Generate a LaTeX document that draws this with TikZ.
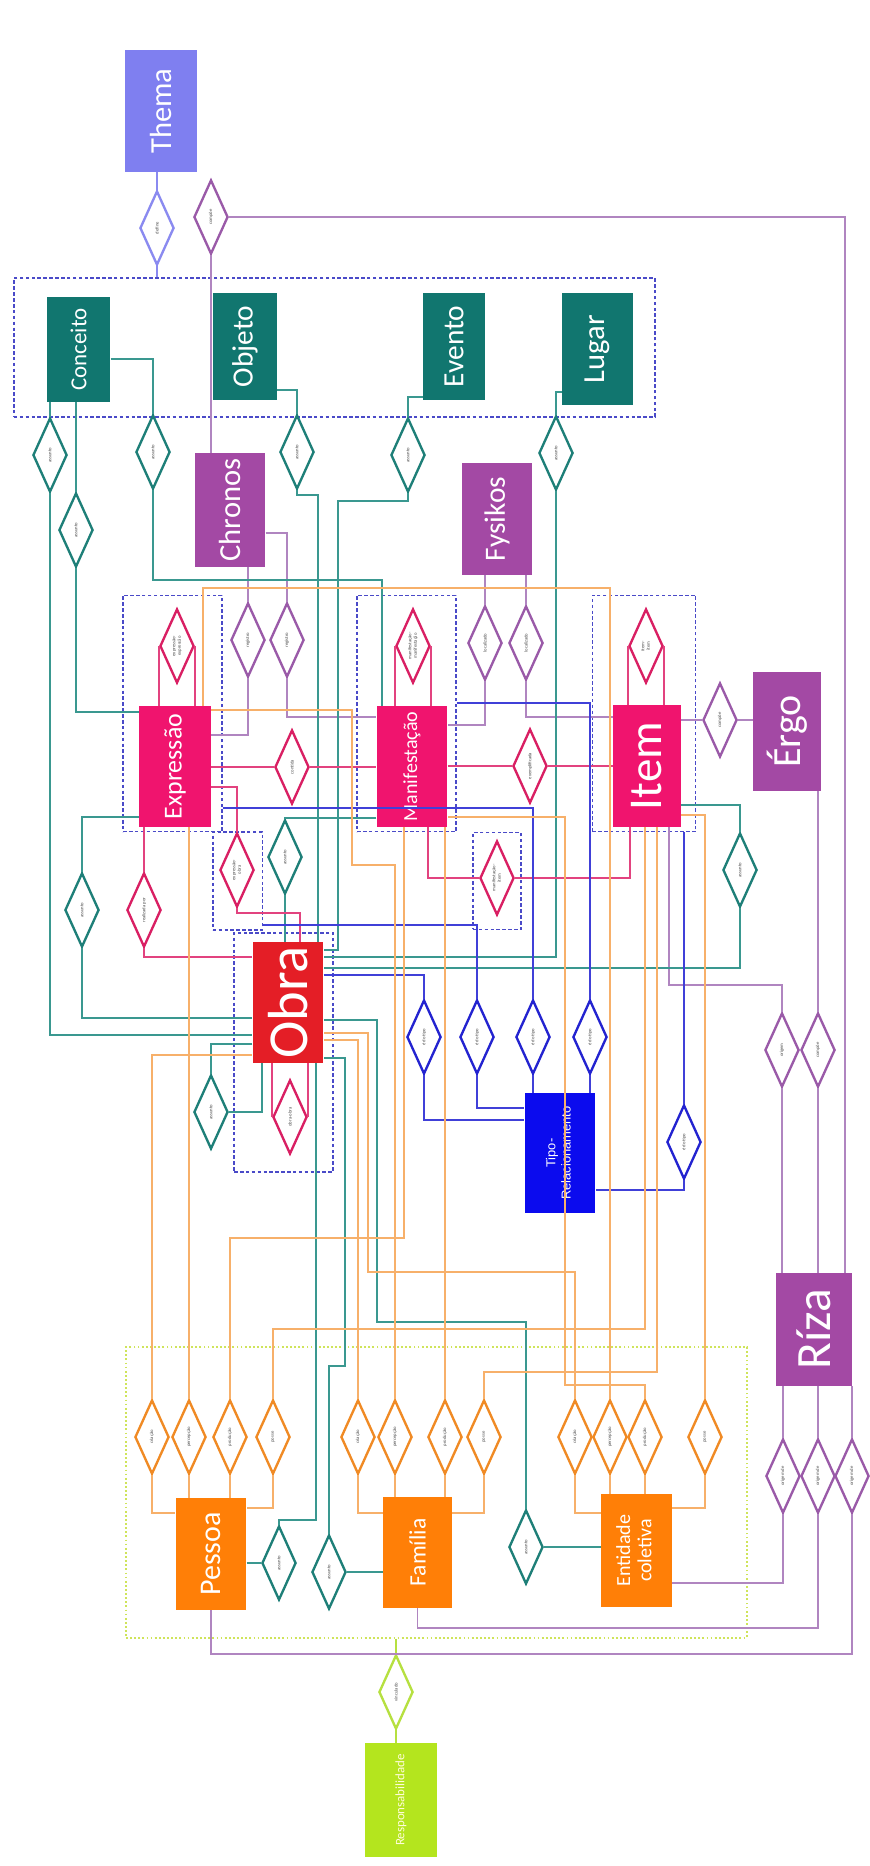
\documentclass[tikz,border=0pt]{standalone}
\usepackage{fontspec}
\setmainfont{Carlito}
\newfontfamily\arialfont{Liberation Sans}
\usepackage{graphicx}
\usetikzlibrary{shapes.geometric}

\definecolor{tealbox}{HTML}{11766F}
\definecolor{tealdia}{HTML}{1E7F78}
\definecolor{tealline}{HTML}{3A9890}
\definecolor{purpbox}{HTML}{A349A4}
\definecolor{purpdia}{HTML}{9A5AA8}
\definecolor{purpline}{HTML}{B085C0}
\definecolor{pinkbox}{HTML}{F0146E}
\definecolor{crimdia}{HTML}{D91F63}
\definecolor{pinkline}{HTML}{E2437F}
\definecolor{obrared}{HTML}{E41E26}
\definecolor{orangebox}{HTML}{FF7F07}
\definecolor{orangedia}{HTML}{F08A24}
\definecolor{orangeline}{HTML}{F7B06A}
\definecolor{bluebox}{HTML}{0B0BEE}
\definecolor{bluedia}{HTML}{2323D0}
\definecolor{blueline}{HTML}{4040D8}
\definecolor{themabox}{HTML}{7F7FF0}
\definecolor{lavdia}{HTML}{8A8AF0}
\definecolor{limebox}{HTML}{B4E51E}
\definecolor{limedia}{HTML}{B6E040}
\definecolor{groupblue}{HTML}{4A4AC8}
\definecolor{groupgreen}{HTML}{CFE45A}

\newcommand{\vtxt}[1]{\rotatebox{90}{#1}}
\newcommand{\vtwo}[2]{\rotatebox{90}{\begin{tabular}{@{}c@{}}#1\\#2\end{tabular}}}

\tikzset{
  ent/.style={rectangle, inner sep=0pt, minimum width=60pt, minimum height=100pt, text=white},
  rel/.style={diamond, aspect=0.4, inner sep=0pt, minimum width=29pt, minimum height=63pt,
    fill=white, line width=2pt, text=black!70, font=\fontsize{4}{4.6}\selectfont},
  lnk/.style={line width=1.35pt},
  tl/.style={lnk, draw=tealline},
  pl/.style={lnk, draw=purpline},
  kl/.style={lnk, draw=pinkline},
  ol/.style={lnk, draw=orangeline},
  bl/.style={lnk, draw=blueline},
  ll/.style={lnk, draw=lavdia},
  gl/.style={lnk, draw=limedia},
  grp/.style={draw=groupblue, line width=1.2pt, dash pattern=on 3pt off 2pt},
  grpgreen/.style={draw=groupgreen, line width=1.5pt, dash pattern=on 1.5pt off 2pt},
}

\begin{document}
\begin{tikzpicture}[x=0.85pt, y=-0.85pt]
  \fill[white] (0,0) rectangle (869,1866);
  \useasboundingbox (0,0) rectangle (869,1866);

  % groups
  \node[grp, minimum width=545pt, minimum height=118pt] (gtop) at (334.5,347.5) {};
  \node[grpgreen, minimum width=528pt, minimum height=247pt] (ggreen) at (436.5,1492.5) {};
  \node[grp, minimum width=84pt, minimum height=201pt] (gexpr) at (172.5,713.5) {};
  \node[grp, minimum width=84pt, minimum height=201pt] (gmanif) at (406.5,713.5) {};
  \node[grp, minimum width=88pt, minimum height=201pt] (gitem) at (644,713.5) {};
  \node[grp, minimum width=42pt, minimum height=83pt] (geo) at (237.5,881) {};
  \node[grp, minimum width=41pt, minimum height=82pt] (gmi) at (497,881) {};
  \node[grp, minimum width=84pt, minimum height=203pt] (gobra) at (283.5,1052.5) {};

  % entities
  \node[ent, fill=themabox, minimum width=61pt, minimum height=104pt, font=\fontsize{26}{28}\selectfont] (thema) at (161,111) {\vtxt{Thema}};
  \node[ent, fill=tealbox, minimum width=54pt, minimum height=89pt, font=\fontsize{19.5}{21}\selectfont] (conceito) at (78.5,349.5) {\vtxt{Conceito}};
  \node[ent, fill=tealbox, minimum width=54pt, minimum height=91pt, font=\fontsize{25}{27}\selectfont] (objeto) at (245,346.5) {\vtxt{Objeto}};
  \node[ent, fill=tealbox, minimum width=53pt, minimum height=91pt, font=\fontsize{25}{27}\selectfont] (evento) at (454,346.5) {\vtxt{Evento}};
  \node[ent, fill=tealbox, minimum width=60pt, minimum height=95pt, font=\fontsize{26}{28}\selectfont] (lugar) at (597.5,349) {\vtxt{Lugar}};
  \node[ent, fill=purpbox, minimum width=60pt, minimum height=97pt, font=\fontsize{26}{28}\selectfont] (chronos) at (230,510) {\vtxt{Chronos}};
  \node[ent, fill=purpbox, minimum width=60pt, minimum height=95pt, font=\fontsize{25}{27}\selectfont] (fysikos) at (497,519) {\vtxt{Fysikos}};
  \node[ent, fill=pinkbox, minimum width=61pt, minimum height=103pt, font=\fontsize{22}{24}\selectfont] (expr) at (175,766.5) {\vtxt{Expressão}};
  \node[ent, fill=pinkbox, minimum width=60pt, minimum height=103pt, font=\fontsize{17}{19}\selectfont] (manif) at (412,766.5) {\vtxt{Manifestação}};
  \node[ent, fill=pinkbox, minimum width=58pt, minimum height=104pt, font=\fontsize{40}{42}\selectfont] (item) at (647,766) {\vtxt{Item}};
  \node[ent, fill=purpbox, minimum width=58pt, minimum height=101pt, font=\fontsize{34}{36}\selectfont] (ergo) at (787,731.5) {\vtxt{Érgo}};
  \node[ent, fill=obrared, minimum width=60pt, minimum height=103pt, font=\fontsize{48}{50}\selectfont] (obra) at (288,1002.5) {\vtxt{Obra}};
  \node[ent, fill=bluebox, minimum width=60pt, minimum height=102pt, font=\arialfont\fontsize{11}{13}\selectfont] (tipo) at (560,1153) {\vtwo{Tipo-}{Relacionamento}};
  \node[ent, fill=purpbox, minimum width=65pt, minimum height=96pt, font=\fontsize{42}{44}\selectfont] (riza) at (814,1329.5) {\vtxt{Ríza}};
  \node[ent, fill=orangebox, minimum width=60pt, minimum height=95pt, font=\fontsize{25.5}{27}\selectfont] (pessoa) at (211,1554) {\vtxt{Pessoa}};
  \node[ent, fill=orangebox, minimum width=59pt, minimum height=94pt, font=\fontsize{20}{22}\selectfont] (familia) at (417.5,1552.5) {\vtxt{Família}};
  \node[ent, fill=orangebox, minimum width=60pt, minimum height=96pt, font=\fontsize{17}{18}\selectfont] (entidade) at (636.5,1550.5) {\vtwo{Entidade}{coletiva}};
  \node[ent, fill=limebox, minimum width=61pt, minimum height=97pt, text=yellow!15, font=\fontsize{11}{12}\selectfont] (resp) at (401,1800) {\vtxt{Responsabilidade}};

  % relationships
  \node[rel, draw=lavdia] (dfine) at (157,228) {\vtxt{define}};
  \node[rel, draw=purpdia] (dcomp) at (211,217) {\vtxt{compõe}};
  \foreach \n/\x/\y in {da1/50/455, da2/76/530, da3/153/452, da4/297/452, da5/408/455, da6/556/453,
      da7/82/910, da8/285/857, da9/740/870, da10/211/1112, dap/279/1563, daf/329/1572, dae/526/1547}
    \node[rel, draw=tealdia] (\n) at (\x,\y) {\vtxt{assunto}};
  \foreach \n/\x in {cr1/248, cr2/287}
    \node[rel, draw=purpdia] (\n) at (\x,640) {\vtxt{registro}};
  \foreach \n/\x in {fy1/485, fy2/526}
    \node[rel, draw=purpdia] (\n) at (\x,643) {\vtxt{localizado}};
  \node[rel, draw=purpdia] (dergo) at (720,720) {\vtxt{compõe}};
  \node[rel, draw=purpdia] (dr1) at (782,1050) {\vtxt{origem}};
  \node[rel, draw=purpdia] (dr2) at (818,1050) {\vtxt{compõe}};
  \foreach \n/\x in {rb1/783, rb2/818, rb3/852}
    \node[rel, draw=purpdia] (\n) at (\x,1476) {\vtxt{origem de}};
  \node[rel, draw=crimdia] (dse) at (177,646) {\vtwo{expressão-}{expressão}};
  \node[rel, draw=crimdia] (dsm) at (413,646) {\vtwo{manifestação-}{manifestação}};
  \node[rel, draw=crimdia] (dsi) at (646,646) {\vtwo{item-}{item}};
  \node[rel, draw=crimdia] (dso) at (290,1117) {\vtxt{obra-obra}};
  \node[rel, draw=crimdia] (dem) at (292,767) {\vtxt{contida}};
  \node[rel, draw=crimdia] (dmi) at (530,766) {\vtxt{exemplificada}};
  \node[rel, draw=crimdia] (dreo) at (144,910) {\vtxt{realizada por}};
  \node[rel, draw=crimdia] (dxeo) at (237,870) {\vtwo{expressão-}{obra}};
  \node[rel, draw=crimdia] (dxmi) at (497,878) {\vtwo{manifestação-}{item}};
  \foreach \n/\x/\y in {dt1/424/1037, dt2/477/1037, dt3/533/1037, dt4/590/1037, dt5/684/1142}
    \node[rel, draw=bluedia] (\n) at (\x,\y) {\vtxt{é do tipo}};
  \foreach \n/\x/\t in {dpc/152/criação, dpp/189/percepção, dpd/230/produção, dpz/273/posse,
      dfc/358/criação, dfp/395/percepção, dfd/445/produção, dfz/484/posse,
      dec/575/criação, dep/610/percepção, ded/645/produção, dez/705/posse}
    \node[rel, draw=orangedia] (\n) at (\x,1437) {\vtxt{\t}};
  \node[rel, draw=limedia] (dresp) at (396,1692) {\vtxt{vinculado}};

  % lavender and lime
  \draw[ll] (dfine.north |- thema.south) -- (dfine.north);
  \draw[ll] (dfine.south) -- (dfine.south |- gtop.north);
  \draw[gl] (dresp.north |- ggreen.south) -- (dresp.north);
  \draw[gl] (dresp.south) -- (dresp.south |- resp.north);

  % purple
  \draw[pl] (dcomp.south) -- (dcomp.south |- chronos.north);
  \draw[pl] (dcomp.east) -| (riza.north -| 845,0);
  \draw[pl] (chronos.south -| cr1.north) -- (cr1.north);
  \draw[pl] (chronos.east |- 0,533) -| (cr2.north);
  \draw[pl] (cr1.south) |- (expr.east |- 0,735);
  \draw[pl] (cr2.south) |- (manif.west |- 0,717);
  \draw[pl] (fysikos.south -| fy1.north) -- (fy1.north);
  \draw[pl] (fysikos.south -| fy2.north) -- (fy2.north);
  \draw[pl] (fy1.south) |- (manif.east |- 0,725);
  \draw[pl] (fy2.south) |- (item.west |- 0,717);
  \draw[pl] (item.east |- dergo.west) -- (dergo.west);
  \draw[pl] (dergo.east) -- (ergo.west |- dergo.east);
  \draw[pl] (ergo.south -| dr2.north) -- (dr2.north);
  \draw[pl] (dr2.south) -- (dr2.south |- riza.north);
  \draw[pl] (item.south -| 669,0) |- (dr1.north |- 0,985) -- (dr1.north);
  \draw[pl] (dr1.south) -- (dr1.south |- riza.north);
  \foreach \d in {rb1,rb2,rb3} \draw[pl] (riza.south -| \d.north) -- (\d.north);
  \draw[pl] (rb1.south) |- (entidade.east |- 0,1583);
  \draw[pl] (rb2.south) |- (familia.south |- 0,1628) -- (familia.south);
  \draw[pl] (rb3.south) |- (pessoa.south |- 0,1654) -- (pessoa.south);

  % teal
  \draw[tl] (conceito.south -| da1.north) -- (da1.north);
  \draw[tl] (da1.south) |- (obra.west |- 0,1035);
  \draw[tl] (conceito.south -| da2.north) -- (da2.north);
  \draw[tl] (da2.south) |- (expr.west |- 0,712);
  \draw[tl] (conceito.east |- 0,359) -| (da3.north);
  \draw[tl] (da3.south) |- (382,580) -- (manif.north -| 382,0);
  \draw[tl] (objeto.east |- 0,390) -| (da4.north);
  \draw[tl] (da4.south) -- ++(0,5) -| (obra.north -| 318,0);
  \draw[tl] (evento.west |- 0,397) -| (da5.north);
  \draw[tl] (da5.south) -- ++(0,8) -| (338,950) -- (obra.east |- 0,950);
  \draw[tl] (lugar.west |- 0,392) -| (da6.north);
  \draw[tl] (da6.south) |- (obra.east |- 0,957);
  \draw[tl] (expr.west |- 0,817) -| (da7.north);
  \draw[tl] (da7.south) |- (obra.west |- 0,1018);
  \draw[tl] (manif.west |- 0,818) -| (da8.north);
  \draw[tl] (da8.south) -- (da8.south |- obra.north);
  \draw[tl] (item.east |- 0,805) -| (da9.north);
  \draw[tl] (da9.south) |- (obra.east |- 0,968);
  \draw[tl] (obra.west |- 0,1044) -| (da10.north);
  \draw[tl] (obra.south -| 262,0) |- (da10.east);
  \draw[tl] (pessoa.east |- dap.west) -- (dap.west);
  \draw[tl] (dap.north) |- (316,1520) -- (obra.south -| 316,0);
  \draw[tl] (familia.west |- daf.east) -- (daf.east);
  \draw[tl] (daf.north) |- (345,1366) |- (obra.east |- 0,1058);
  \draw[tl] (entidade.west |- dae.east) -- (dae.east);
  \draw[tl] (dae.north) |- (377,1322) |- (obra.east |- 0,1020);

  % crimson
  \foreach \d/\e in {dse/expr, dsm/manif, dsi/item} {
    \draw[kl] (\e.north -| \d.west) -- (\d.west);
    \draw[kl] (\e.north -| \d.east) -- (\d.east);
  }
  \draw[kl] (expr.east |- dem.west) -- (dem.west);
  \draw[kl] (dem.east) -- (manif.west |- dem.east);
  \draw[kl] (manif.east |- dmi.west) -- (dmi.west);
  \draw[kl] (dmi.east) -- (item.west |- dmi.east);
  \draw[kl] (expr.south -| dreo.north) -- (dreo.north);
  \draw[kl] (dreo.south) |- (obra.west |- 0,957);
  \draw[kl] (expr.east |- 0,787) -| (dxeo.north);
  \draw[kl] (dxeo.south) |- (300,913) -- (obra.north -| 300,0);
  \draw[kl] (manif.south -| 428,0) |- (dxmi.west);
  \draw[kl] (dxmi.east) -| (item.south -| 630,0);
  \draw[kl] (obra.south -| dso.west) -- (dso.west);
  \draw[kl] (obra.south -| dso.east) -- (dso.east);

  % blue
  \draw[bl] (obra.east |- 0,975) -| (dt1.north);
  \draw[bl] (geo.east |- 0,925) -| (dt2.north);
  \draw[bl] (gexpr.east |- 0,808) -| (dt3.north);
  \draw[bl] (gmanif.east |- 0,703) -| (dt4.north);
  \draw[bl] (gitem.south -| dt5.north) -- (dt5.north);
  \draw[bl] (dt1.south) |- (tipo.west |- 0,1120);
  \draw[bl] (dt2.south) |- (tipo.west |- 0,1108);
  \draw[bl] (dt3.south) -- (dt3.south |- tipo.north);
  \draw[bl] (dt4.south) -- (dt4.south |- tipo.north);
  \draw[bl] (dt5.south) |- (tipo.east |- 0,1190);

  % orange
  \draw[ol] (dpc.north) |- (obra.west |- 0,1055);
  \draw[ol] (dpc.south) |- (pessoa.west |- 0,1513);
  \draw[ol] (dpp.north) -- (dpp.north |- expr.south);
  \draw[ol] (dpp.south) -- (dpp.south |- pessoa.north);
  \draw[ol] (dpd.north) |- (404,1238) -- (manif.south -| 404,0);
  \draw[ol] (dpd.south) -- (dpd.south |- pessoa.north);
  \draw[ol] (dpz.north) |- (645,1329) -- (item.south -| 645,0);
  \draw[ol] (dpz.south) |- (pessoa.east |- 0,1508);
  \draw[ol] (dfc.north) |- (obra.east |- 0,1040);
  \draw[ol] (dfc.south) |- (familia.west |- 0,1513);
  \draw[ol] (dfp.north) |- (352,865) |- (expr.east |- 0,710);
  \draw[ol] (dfp.south) -- (dfp.south |- familia.north);
  \draw[ol] (dfd.north) -- (dfd.north |- manif.south);
  \draw[ol] (dfd.south) -- (dfd.south |- familia.north);
  \draw[ol] (dfz.north) |- (657,1372) -- (item.south -| 657,0);
  \draw[ol] (dfz.south) |- (familia.east |- 0,1513);
  \draw[ol] (dec.north) |- (368,1272) |- (obra.east |- 0,1033);
  \draw[ol] (dec.south) |- (entidade.west |- 0,1513);
  \draw[ol] (dep.north) |- (203,588) -- (expr.north -| 203,0);
  \draw[ol] (dep.south) -- (dep.south |- entidade.north);
  \draw[ol] (ded.north) |- (565,1385) |- (manif.east |- 0,817);
  \draw[ol] (ded.south) -- (ded.south |- entidade.north);
  \draw[ol] (dez.north) |- (item.east |- 0,815);
  \draw[ol] (dez.south) |- (entidade.east |- 0,1508);
\end{tikzpicture}
\end{document}
